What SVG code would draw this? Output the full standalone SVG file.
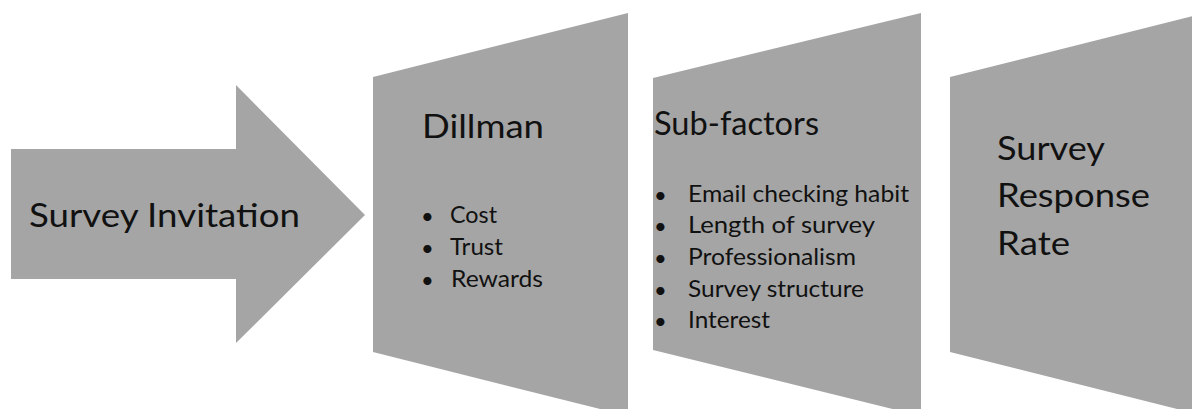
<svg xmlns="http://www.w3.org/2000/svg" width="1192" height="409" viewBox="0 0 1192 409">
<style>
.shape{fill:#a5a5a5;stroke:none}
text{font-family:Lato,"Open Sans","Liberation Sans",sans-serif;fill:#111}
.t{font-size:32px}
.b{font-size:23px}
.d{font-size:22px}
</style>
<rect width="1192" height="409" fill="#fff"/>
<g id="connectors"></g>
<g id="invitation">
<polygon class="shape" points="11,149 236,149 236,85 365,215 236,343 236,279 11,279"/>
<text class="t" x="29" y="227" textLength="271" lengthAdjust="spacingAndGlyphs">Survey Invitation</text>
</g>
<g id="dillman">
<polygon class="shape" points="373,77 628,13 628,416 373,352"/>
<text class="t" x="422" y="138" textLength="122" lengthAdjust="spacingAndGlyphs">Dillman</text>
<text class="d" x="421" y="224">•</text><text class="b" x="450" y="223" textLength="47" lengthAdjust="spacingAndGlyphs">Cost</text>
<text class="d" x="421" y="256">•</text><text class="b" x="450" y="255" textLength="53" lengthAdjust="spacingAndGlyphs">Trust</text>
<text class="d" x="421" y="288">•</text><text class="b" x="451" y="287" textLength="92" lengthAdjust="spacingAndGlyphs">Rewards</text>
</g>
<g id="subfactors">
<polygon class="shape" points="653,78 921,13 921,416 653,350"/>
<text class="t" x="654" y="135" textLength="165" lengthAdjust="spacingAndGlyphs">Sub-factors</text>
<text class="d" x="654" y="203">•</text><text class="b" x="688" y="202" textLength="221" lengthAdjust="spacingAndGlyphs">Email checking habit</text>
<text class="d" x="654" y="234">•</text><text class="b" x="688" y="233" textLength="187" lengthAdjust="spacingAndGlyphs">Length of survey</text>
<text class="d" x="654" y="266">•</text><text class="b" x="688" y="265" textLength="168" lengthAdjust="spacingAndGlyphs">Professionalism</text>
<text class="d" x="654" y="298">•</text><text class="b" x="688" y="297" textLength="176" lengthAdjust="spacingAndGlyphs">Survey structure</text>
<text class="d" x="654" y="329">•</text><text class="b" x="688" y="328" textLength="82" lengthAdjust="spacingAndGlyphs">Interest</text>
</g>
<g id="response-rate">
<polygon class="shape" points="950,77 1205,13 1205,416 950,352"/>
<text class="t" x="997" y="160" textLength="108" lengthAdjust="spacingAndGlyphs">Survey</text>
<text class="t" x="997" y="207" textLength="153" lengthAdjust="spacingAndGlyphs">Response</text>
<text class="t" x="997" y="255" textLength="73" lengthAdjust="spacingAndGlyphs">Rate</text>
</g>
</svg>
